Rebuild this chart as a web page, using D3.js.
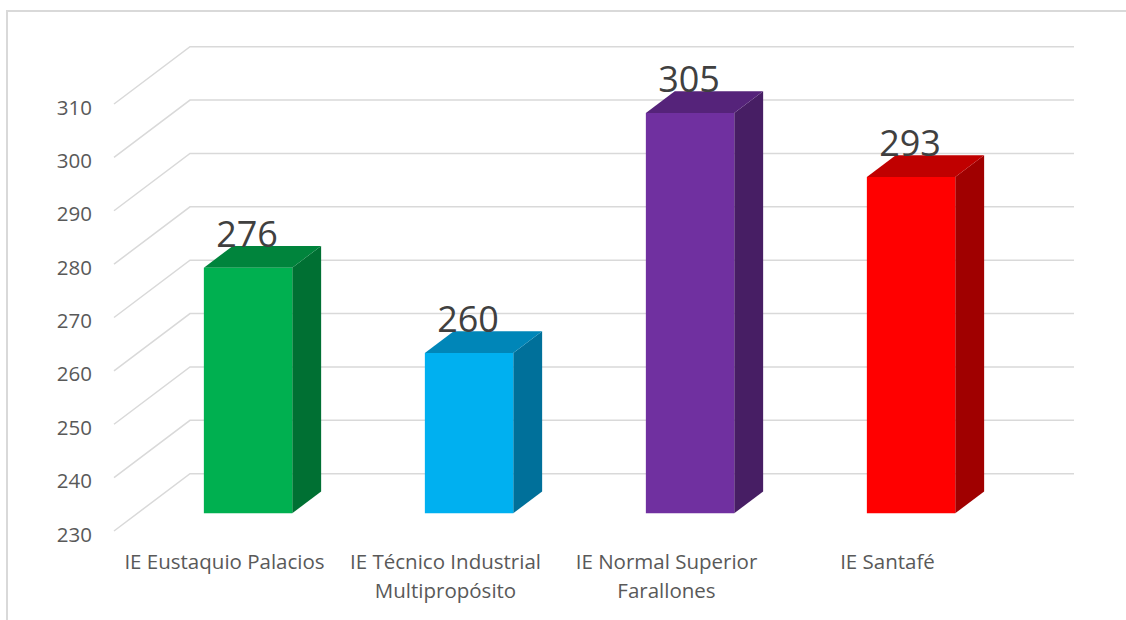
<!DOCTYPE html>
<html>
<head>
<meta charset="utf-8">
<script src="https://cdn.jsdelivr.net/npm/d3@7"></script>
<style>
  html, body { margin: 0; padding: 0; background: #ffffff; }
  svg { display: block; }
  text { font-family: "Open Sans", Lato, sans-serif; }
</style>
</head>
<body>
<svg id="chart" width="1126" height="620"></svg>
<script>
// Institutions (line breaks mark where the axis label wraps)
const categories = [
  "IE Eustaquio Palacios",
  "IE Técnico Industrial\nMultipropósito",
  "IE Normal Superior\nFarallones",
  "IE Santafé"
];
const values = [276, 260, 305, 293];
const yTicks = [230, 240, 250, 260, 270, 280, 290, 300, 310];

// Face colours for each column: front, top, side
const frontColors = ["#00b050", "#00b0f0", "#7030a0", "#ff0000"];
const topColors   = ["#00843c", "#0086b8", "#55237a", "#c00000"];
const sideColors  = ["#007033", "#00709a", "#471e64", "#a00000"];

const svg = d3.select("#chart");
const W = 1126, H = 620;

// Front plane of the 3-D box and the oblique depth offset
const frontLeft = 114, frontRight = 998;
const depthDX = 76, depthDY = -57.33;
const barD0 = 0.31, barD1 = 0.69;

const x = d3.scaleBand()
  .domain(categories)
  .range([frontLeft, frontRight])
  .paddingInner(0.6)
  .paddingOuter(0.3);

const y = d3.scaleLinear()
  .domain([yTicks[0], yTicks[yTicks.length - 1]])
  .range([531, 104]);

// Project (screen x on front plane, value, depth 0..1) to screen coordinates
const proj = (px, v, d) => [px + d * depthDX, y(v) + d * depthDY];
const poly = pts => "M" + pts.map(p => p.join(",")).join("L") + "Z";

// Outer chart frame (top and left edges)
svg.append("path")
  .attr("d", `M7,${H} V11 H${W}`)
  .attr("fill", "none")
  .attr("stroke", "#d9d9d9")
  .attr("stroke-width", 2);

// Gridlines: side wall diagonals and back wall horizontals
const grid = svg.append("g")
  .attr("stroke", "#d9d9d9")
  .attr("stroke-width", 1.5)
  .attr("fill", "none");

grid.selectAll("path")
  .data(yTicks)
  .join("path")
  .attr("d", t => {
    const a = proj(frontLeft, t, 0);
    const b = proj(frontLeft, t, 1);
    const c = proj(frontRight, t, 1);
    return `M${a}L${b}L${c}`;
  });

// Value axis labels
const yAxis = d3.axisLeft(y)
  .tickValues(yTicks)
  .tickSize(0)
  .tickPadding(22);

const yAxisG = svg.append("g")
  .attr("transform", `translate(${frontLeft},0)`)
  .call(yAxis);
yAxisG.select(".domain").remove();
yAxisG.selectAll("text")
  .attr("dy", "10px")
  .attr("fill", "#595959")
  .style("font-size", "20.5px")
  .style("font-family", "'Open Sans', Lato, sans-serif");

// Columns
const base = yTicks[0];
const bars = svg.append("g")
  .selectAll("g")
  .data(categories.map((c, i) => ({ c, v: values[i], i })))
  .join("g");

bars.append("path")
  .attr("fill", d => sideColors[d.i])
  .attr("d", d => {
    const xr = x(d.c) + x.bandwidth();
    return poly([proj(xr, base, barD0), proj(xr, d.v, barD0), proj(xr, d.v, barD1), proj(xr, base, barD1)]);
  });

bars.append("path")
  .attr("fill", d => topColors[d.i])
  .attr("d", d => {
    const xl = x(d.c), xr = xl + x.bandwidth();
    return poly([proj(xl, d.v, barD0), proj(xr, d.v, barD0), proj(xr, d.v, barD1), proj(xl, d.v, barD1)]);
  });

bars.append("path")
  .attr("fill", d => frontColors[d.i])
  .attr("d", d => {
    const xl = x(d.c), xr = xl + x.bandwidth();
    return poly([proj(xl, base, barD0), proj(xl, d.v, barD0), proj(xr, d.v, barD0), proj(xr, base, barD0)]);
  });

// Data labels sitting on the column tops
bars.append("text")
  .attr("x", d => proj(x(d.c) + x.bandwidth() / 2, d.v, barD0)[0] - 1)
  .attr("y", d => proj(0, d.v, barD1)[1] + 1)
  .attr("text-anchor", "middle")
  .attr("fill", "#404040")
  .style("font-size", "36px")
  .text(d => d.v);

// Category labels under the front plane
const catG = svg.append("g")
  .selectAll("text")
  .data(categories)
  .join("text")
  .attr("text-anchor", "middle")
  .attr("fill", "#595959")
  .style("font-size", "20.5px")
  .attr("transform", c => `translate(${x(c) + x.bandwidth() / 2},569)`);

catG.selectAll("tspan")
  .data(c => c.split("\n"))
  .join("tspan")
  .attr("x", 0)
  .attr("y", (l, j) => j * 29)
  .text(l => l);
</script>
</body>
</html>
